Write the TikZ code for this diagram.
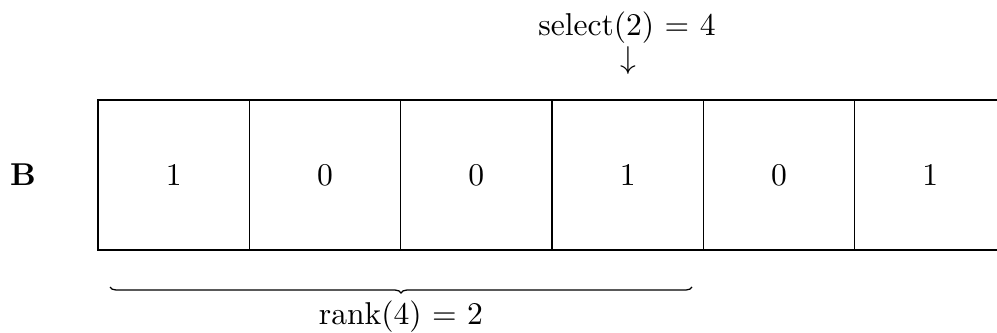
\documentclass[tikz,border=0pt]{standalone}
\usetikzlibrary{decorations.pathreplacing}
\begin{document}
\begin{tikzpicture}[x=0.3165pt,y=-0.3165pt,
  cell/.style={draw,line width=0.4pt,minimum width=47.9pt,minimum height=47.5pt,inner sep=0pt,outer sep=0pt},
  lbl/.style={inner sep=0pt,outer sep=0pt}]
\useasboundingbox (0,0) rectangle (997,333);
\clip (0,0) rectangle (997,333);
\node[cell] (c1) at (173.67,175) {1};
\node[cell] (c2) at (325.00,175) {0};
\node[cell] (c3) at (476.33,175) {0};
\node[cell] (c4) at (627.67,175) {1};
\node[cell] (c5) at (779.00,175) {0};
\node[cell] (c6) at (930.33,175) {1};
\node[lbl,font=\bfseries] (b) at (23,175) {B};
\node[lbl] (sel) at (627,27.5) {select$(2)$ $=$ $4$};
\node[lbl] (arr) at (628,61) {$\downarrow$};
\coordinate (bl) at (110,287);
\coordinate (br) at (692,287);
\draw[decorate,decoration={brace,mirror,amplitude=1.9pt}] (bl) -- (br);
\node[lbl] (rank) at (401,316.5) {rank$(4)$ $=$ $2$};
\end{tikzpicture}
\end{document}
